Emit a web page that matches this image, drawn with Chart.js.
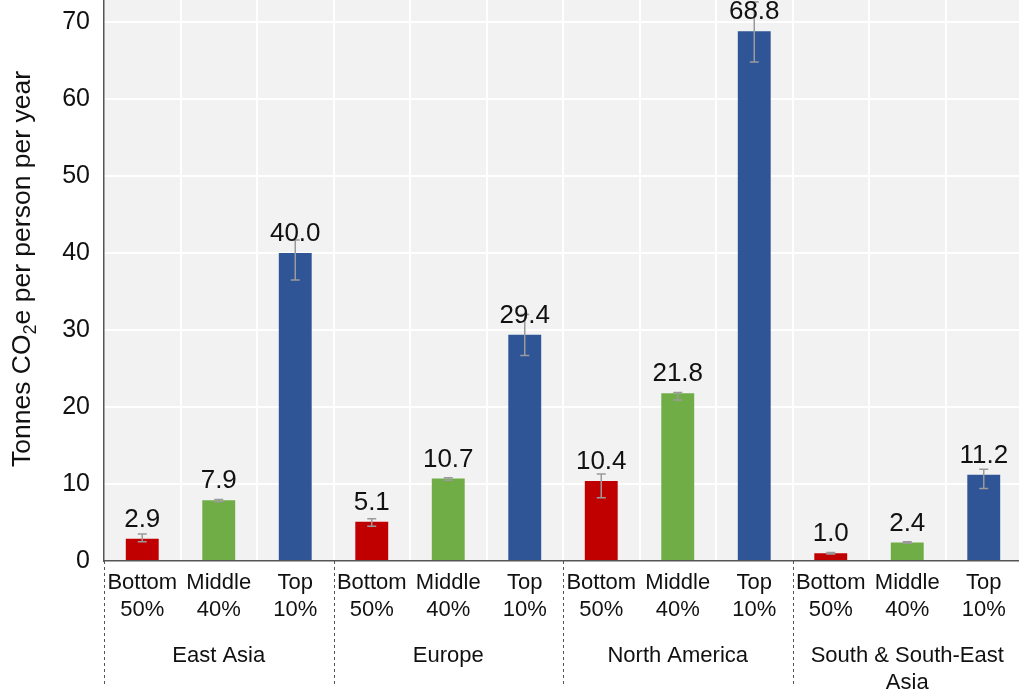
<!DOCTYPE html>
<html>
<head>
<meta charset="utf-8">
<script src="https://cdn.jsdelivr.net/npm/chart.js@4/dist/chart.umd.min.js"></script>
<style>
  html, body { margin: 0; padding: 0; background: #ffffff; overflow: hidden; }
  #wrap { width: 1022px; height: 695px; }
</style>
</head>
<body>
<div id="wrap"><canvas id="c" width="1022" height="695"></canvas></div>
<script>
// Income groups within each region
const incomeGroups = [['Bottom', '50%'], ['Middle', '40%'], ['Top', '10%']];
const regions = [['East Asia'], ['Europe'], ['North America'], ['South & South-East', 'Asia']];

// Per-capita emissions (tCO2e per person per year), region by region
const values   = [2.9, 7.9, 40.0, 5.1, 10.7, 29.4, 10.4, 21.8, 68.8, 1.0, 2.4, 11.2];
const errLow   = [2.5, 7.7, 36.5, 4.5, 10.5, 26.7, 8.2, 20.9, 64.8, 0.9, 2.3, 9.4];
const errHigh  = [3.5, 8.0, 41.7, 5.5, 10.8, 32.0, 11.3, 21.9, 72.6, 1.1, 2.5, 11.9];
const valueLabels = ['2.9', '7.9', '40.0', '5.1', '10.7', '29.4', '10.4', '21.8', '68.8', '1.0', '2.4', '11.2'];
const yTicks = [0, 10, 20, 30, 40, 50, 60, 70];

const groupColors = ['#c00000', '#70ad47', '#2f5597'];

const labels = [];
const colors = [];
regions.forEach(() => {
  incomeGroups.forEach((g, j) => { labels.push(g); colors.push(groupColors[j]); });
});

const FONT = "'Liberation Sans', Arial, Helvetica, sans-serif";

const plotBackground = {
  id: 'plotBackground',
  beforeDraw(chart) {
    const { ctx, chartArea: a } = chart;
    ctx.save();
    ctx.fillStyle = '#f2f2f2';
    ctx.fillRect(a.left, a.top, a.right - a.left, a.bottom - a.top);
    ctx.restore();
  }
};

const errorBars = {
  id: 'errorBars',
  afterDatasetsDraw(chart) {
    const { ctx } = chart;
    const x = chart.scales.x, y = chart.scales.y;
    ctx.save();
    ctx.strokeStyle = '#9a9a9a';
    ctx.lineWidth = 1.5;
    values.forEach((v, i) => {
      const px = x.getPixelForValue(i);
      const lo = y.getPixelForValue(errLow[i]);
      const hi = y.getPixelForValue(errHigh[i]);
      ctx.beginPath();
      ctx.moveTo(px, lo); ctx.lineTo(px, hi);
      ctx.moveTo(px - 4.5, lo); ctx.lineTo(px + 4.5, lo);
      ctx.moveTo(px - 4.5, hi); ctx.lineTo(px + 4.5, hi);
      ctx.stroke();
    });
    ctx.restore();
  }
};

const valueText = {
  id: 'valueText',
  afterDraw(chart) {
    const { ctx } = chart;
    const x = chart.scales.x, y = chart.scales.y;
    ctx.save();
    ctx.fillStyle = '#111111';
    ctx.font = '26px ' + FONT;
    ctx.textAlign = 'center';
    ctx.textBaseline = 'alphabetic';
    values.forEach((v, i) => {
      ctx.fillText(valueLabels[i], x.getPixelForValue(i), y.getPixelForValue(v) - 12);
    });
    ctx.restore();
  }
};

const regionAxis = {
  id: 'regionAxis',
  afterDraw(chart) {
    const { ctx, chartArea: a } = chart;
    const x = chart.scales.x;
    const step = x.getPixelForValue(1) - x.getPixelForValue(0);
    ctx.save();
    // dashed separators between regions
    ctx.strokeStyle = '#555555';
    ctx.lineWidth = 1;
    ctx.setLineDash([3, 3]);
    for (let r = 0; r < regions.length; r++) {
      const sx = Math.round(x.getPixelForValue(r * 3) - step / 2) + 0.5;
      ctx.beginPath();
      ctx.moveTo(sx, a.bottom);
      ctx.lineTo(sx, a.bottom + 125);
      ctx.stroke();
    }
    ctx.setLineDash([]);
    // region names
    ctx.fillStyle = '#111111';
    ctx.font = '22px ' + FONT;
    ctx.textAlign = 'center';
    ctx.textBaseline = 'middle';
    regions.forEach((lines, r) => {
      const cx = x.getPixelForValue(r * 3 + 1);
      lines.forEach((t, k) => ctx.fillText(t, cx, a.bottom + 95 + k * 27));
    });
    ctx.restore();
  }
};

const yTitle = {
  id: 'yTitle',
  afterDraw(chart) {
    const { ctx } = chart;
    const big = '26.5px ' + FONT, small = '18px ' + FONT;
    const parts = [['Tonnes CO', big, 0], ['2', small, 6], ['e per person per year', big, 0]];
    ctx.save();
    let total = 0;
    parts.forEach(p => { ctx.font = p[1]; total += ctx.measureText(p[0]).width; });
    ctx.translate(30, 269);
    ctx.rotate(-Math.PI / 2);
    ctx.fillStyle = '#111111';
    ctx.textBaseline = 'alphabetic';
    ctx.textAlign = 'left';
    let cx = -total / 2;
    parts.forEach(p => {
      ctx.font = p[1];
      ctx.fillText(p[0], cx, p[2]);
      cx += ctx.measureText(p[0]).width;
    });
    ctx.restore();
  }
};

new Chart(document.getElementById('c'), {
  type: 'bar',
  data: {
    labels: labels,
    datasets: [{
      data: values,
      backgroundColor: colors,
      borderWidth: 0,
      barPercentage: 0.43,
      categoryPercentage: 1.0
    }]
  },
  options: {
    responsive: false,
    animation: false,
    devicePixelRatio: 1,
    layout: { padding: 0 },
    plugins: {
      legend: { display: false },
      tooltip: { enabled: false }
    },
    scales: {
      x: {
        offset: true,
        afterFit(s) { s.height = 134; s.paddingLeft = 0; s.paddingRight = 0; },
        grid: {
          color: ctx => ctx.index === 0 ? 'rgba(0,0,0,0)' : '#ffffff',
          lineWidth: 2,
          drawTicks: false,
          offset: true
        },
        border: { display: true, color: '#555555', width: 1.5 },
        ticks: {
          color: '#111111',
          font: { family: FONT, size: 22, lineHeight: 1.25 },
          padding: 8,
          maxRotation: 0,
          autoSkip: false
        }
      },
      y: {
        min: 0,
        max: 72.86,
        afterFit(s) { s.width = 104; s.paddingTop = 0; s.paddingBottom = 0; },
        afterBuildTicks(s) { s.ticks = yTicks.map(v => ({ value: v })); },
        grid: {
          color: ctx => (ctx.tick && ctx.tick.value === 0) ? 'rgba(0,0,0,0)' : '#ffffff',
          lineWidth: 2,
          drawTicks: false
        },
        border: { display: true, color: '#555555', width: 1.5 },
        ticks: {
          color: '#111111',
          font: { family: FONT, size: 25 },
          padding: 14
        }
      }
    }
  },
  plugins: [plotBackground, errorBars, valueText, regionAxis, yTitle]
});
</script>
</body>
</html>
